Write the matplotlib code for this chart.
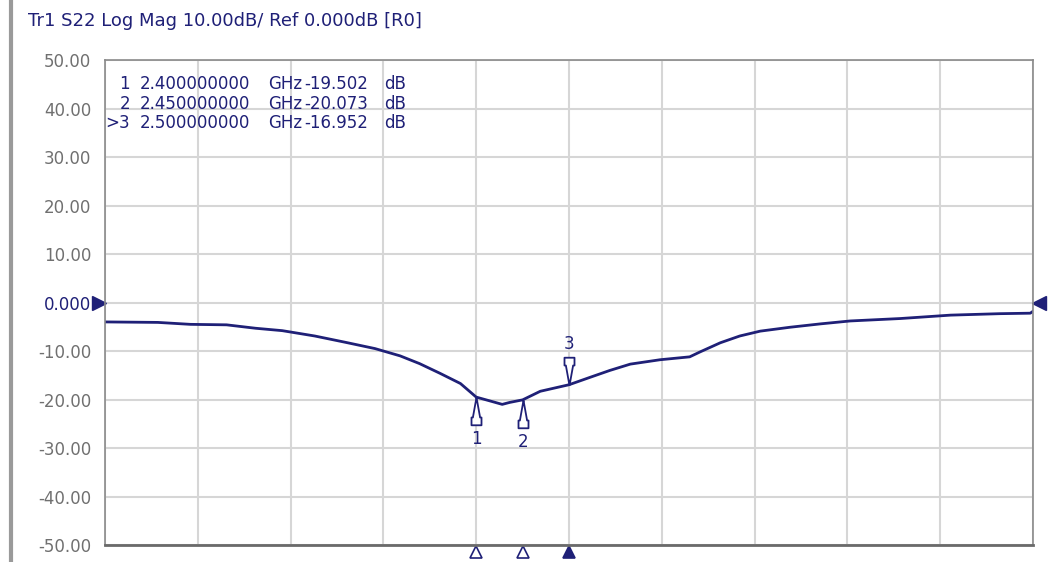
import numpy as np
import matplotlib.pyplot as plt
from matplotlib.path import Path
from matplotlib.transforms import offset_copy

# trace S22, frequency in GHz, magnitude in dB
freq = [2.000, 2.057, 2.092, 2.131, 2.162, 2.191, 2.226, 2.259, 2.291, 2.318,
        2.339, 2.361, 2.383, 2.400, 2.415, 2.428, 2.436, 2.450, 2.469, 2.500,
        2.523, 2.544, 2.566, 2.598, 2.630, 2.641, 2.663, 2.684, 2.706, 2.738,
        2.771, 2.803, 2.857, 2.911, 2.964, 2.997, 3.000]
mag = [-4.0, -4.1, -4.5, -4.6, -5.3, -5.8, -6.9, -8.2, -9.5, -11.0,
       -12.6, -14.6, -16.7, -19.5, -20.3, -21.0, -20.6, -20.07, -18.3, -16.95,
       -15.4, -14.0, -12.7, -11.8, -11.2, -10.2, -8.3, -6.9, -5.9, -5.1,
       -4.4, -3.8, -3.3, -2.6, -2.3, -2.2, -1.8]

mk_num = ['1', '2', '3']
mk_freq = [2.40, 2.45, 2.50]
mk_val = [-19.502, -20.073, -16.952]
mk_below = [True, True, False]   # arrow drawn below trace (pointing up)

yticks = [50, 40, 30, 20, 10, 0, -10, -20, -30, -40, -50]
ylabels = ['50.00', '40.00', '30.00', '20.00', '10.00', '0.000',
           '-10.00', '-20.00', '-30.00', '-40.00', '-50.00']
title = 'Tr1 S22 Log Mag 10.00dB/ Ref 0.000dB [R0]'

navy = '#1f2077'
gray = '#707070'

fig = plt.figure(figsize=(10.49, 5.62), dpi=100)
ax = fig.add_axes([0.1001, 0.0302, 0.8847, 0.863])
ax.set_xlim(2.0, 3.0)
ax.set_ylim(-50, 50)
ax.set_xticks(np.linspace(2.0, 3.0, 11))
ax.set_xticklabels([])
ax.set_yticks(yticks)
ax.set_yticklabels(ylabels)
ax.tick_params(length=0, pad=10, labelsize=12, labelcolor=gray)
for lab in ax.get_yticklabels():
    if lab.get_text() == '0.000':
        lab.set_color(navy)
ax.grid(True, color='#d6d6d6', lw=1.5)
ax.set_axisbelow(True)
for s in ['left', 'right', 'top']:
    ax.spines[s].set_color('#8a8a8a')
    ax.spines[s].set_linewidth(1.2)
ax.spines['bottom'].set_color('#6a6a6a')
ax.spines['bottom'].set_linewidth(2)

ax.plot(freq, mag, color=navy, lw=2)

# marker arrows: tip at the data point
up_arrow = Path([(0, 0), (-0.13, -0.72), (-0.18, -0.72), (-0.18, -1.0), (0.18, -1.0),
                 (0.18, -0.72), (0.13, -0.72), (0, 0)])
dn_arrow = Path([(0, 0), (-0.13, 0.72), (-0.18, 0.72), (-0.18, 1.0), (0.18, 1.0),
                 (0.18, 0.72), (0.13, 0.72), (0, 0)])
below_tr = offset_copy(ax.transData, fig=fig, x=0, y=-5, units='points')
for n, f, v, below in zip(mk_num, mk_freq, mk_val, mk_below):
    ax.plot([f], [v], marker=up_arrow if below else dn_arrow, ms=40,
            mfc='white', mec=navy, mew=1.3, clip_on=False)
    ax.annotate(n, (f, v), xytext=(0, -30 if below else 29), textcoords='offset points',
                ha='center', va='center', color=navy, fontsize=12)
    # stimulus triangles under the axis
    ax.plot([f], [-50], marker='^', ms=9, transform=below_tr,
            mfc=navy if n == '3' else 'white', mec=navy, mew=1.2, clip_on=False)

# reference level triangles
left_tr = offset_copy(ax.transData, fig=fig, x=-4, y=0, units='points')
right_tr = offset_copy(ax.transData, fig=fig, x=4, y=0, units='points')
ax.plot([2.0], [0], marker='>', ms=10, color=navy, clip_on=False, transform=left_tr)
ax.plot([3.0], [0], marker='<', ms=10, color=navy, clip_on=False, transform=right_tr)

# marker readout table
for i, (n, f, v) in enumerate(zip(mk_num, mk_freq, mk_val)):
    y = 0.950 - i * 0.040
    tag = ('>' + n) if n == '3' else n
    ax.text(0.027, y, tag, transform=ax.transAxes, ha='right', va='center', color=navy, fontsize=12)
    ax.text(0.037, y, '%.9f' % f, transform=ax.transAxes, ha='left', va='center', color=navy, fontsize=12)
    ax.text(0.176, y, 'GHz', transform=ax.transAxes, ha='left', va='center', color=navy, fontsize=12)
    ax.text(0.215, y, '%.3f' % v, transform=ax.transAxes, ha='left', va='center', color=navy, fontsize=12)
    ax.text(0.301, y, 'dB', transform=ax.transAxes, ha='left', va='center', color=navy, fontsize=12)

fig.text(0.027, 0.962, title, color=navy, fontsize=13, ha='left', va='center')
fig.add_artist(plt.Line2D([0.0105, 0.0105], [0, 1], color='#9a9a9a', lw=3))

fig.savefig('out.png', dpi=100)
